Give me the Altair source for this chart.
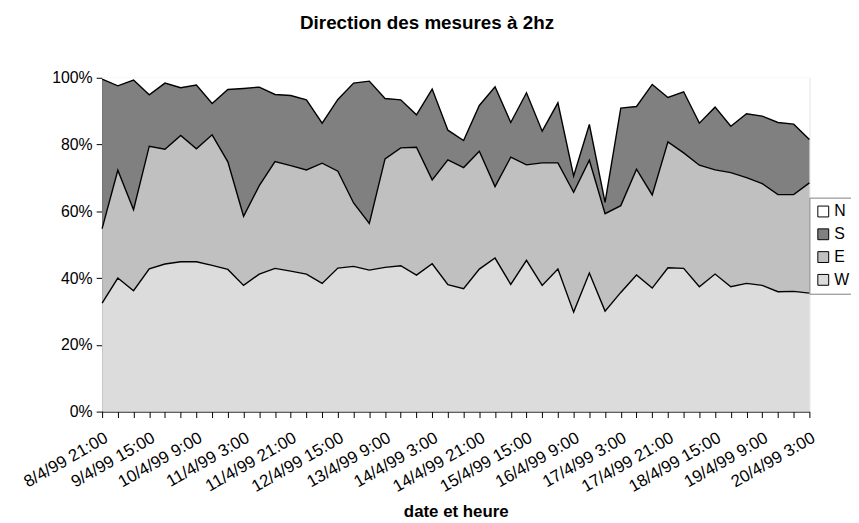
import json
import altair as alt
import pandas as pd

timestamps = [
    "8/4/99 21:00", "9/4/99 3:00", "9/4/99 9:00", "9/4/99 15:00", "9/4/99 21:00",
    "10/4/99 3:00", "10/4/99 9:00", "10/4/99 15:00", "10/4/99 21:00",
    "11/4/99 3:00", "11/4/99 9:00", "11/4/99 15:00", "11/4/99 21:00",
    "12/4/99 3:00", "12/4/99 9:00", "12/4/99 15:00", "12/4/99 21:00",
    "13/4/99 3:00", "13/4/99 9:00", "13/4/99 15:00", "13/4/99 21:00",
    "14/4/99 3:00", "14/4/99 9:00", "14/4/99 15:00", "14/4/99 21:00",
    "15/4/99 3:00", "15/4/99 9:00", "15/4/99 15:00", "15/4/99 21:00",
    "16/4/99 3:00", "16/4/99 9:00", "16/4/99 15:00", "16/4/99 21:00",
    "17/4/99 3:00", "17/4/99 9:00", "17/4/99 15:00", "17/4/99 21:00",
    "18/4/99 3:00", "18/4/99 9:00", "18/4/99 15:00", "18/4/99 21:00",
    "19/4/99 3:00", "19/4/99 9:00", "19/4/99 15:00", "19/4/99 21:00",
    "20/4/99 3:00",
]

shown_labels = [
    "8/4/99 21:00", "9/4/99 15:00", "10/4/99 9:00", "11/4/99 3:00",
    "11/4/99 21:00", "12/4/99 15:00", "13/4/99 9:00", "14/4/99 3:00",
    "14/4/99 21:00", "15/4/99 15:00", "16/4/99 9:00", "17/4/99 3:00",
    "17/4/99 21:00", "18/4/99 15:00", "19/4/99 9:00", "20/4/99 3:00",
]

# share of measurements per direction (%)
W = [32.5, 40.0, 36.2, 42.8, 44.2, 44.9, 44.9, 43.8, 42.6, 37.8,
     41.2, 42.9, 42.1, 41.2, 38.4, 43.0, 43.5, 42.4, 43.2, 43.7,
     40.9, 44.3, 38.0, 36.8, 42.7, 46.0, 38.1, 45.3, 37.8, 42.7,
     29.8, 41.5, 30.1, 35.7, 40.9, 37.0, 43.1, 42.9, 37.4, 41.2,
     37.4, 38.4, 37.8, 35.9, 36.0, 35.5]
E = [22.3, 32.3, 24.3, 36.7, 34.4, 37.8, 33.8, 39.1, 32.2, 20.7,
     26.5, 32.0, 31.6, 31.2, 36.0, 29.0, 19.0, 14.0, 32.5, 35.3,
     38.3, 25.1, 37.4, 36.3, 35.3, 21.4, 38.1, 28.6, 36.7, 31.8,
     35.9, 33.8, 29.2, 26.0, 31.7, 27.9, 37.7, 34.6, 36.4, 31.2,
     34.2, 31.7, 30.5, 29.1, 29.0, 33.0]
S = [44.8, 25.3, 38.8, 15.4, 19.8, 14.3, 19.1, 9.4, 21.7, 38.3,
     29.5, 20.1, 21.0, 21.0, 12.0, 21.5, 35.9, 42.6, 18.1, 14.4,
     9.7, 27.2, 8.9, 8.1, 13.7, 29.9, 10.4, 21.6, 9.5, 18.0,
     4.9, 10.7, 3.4, 29.2, 18.8, 33.1, 13.3, 18.3, 12.6, 18.8,
     13.9, 19.1, 20.2, 21.6, 21.1, 13.0]
N = [0.4, 2.4, 0.7, 5.1, 1.6, 3.0, 2.2, 7.7, 3.5, 3.2,
     2.8, 5.0, 5.3, 6.6, 13.6, 6.5, 1.6, 1.0, 6.2, 6.6,
     11.1, 3.4, 15.7, 18.8, 8.3, 2.7, 13.4, 4.5, 16.0, 7.5,
     29.4, 14.0, 37.3, 9.1, 8.6, 2.0, 5.9, 4.2, 13.6, 8.8,
     14.5, 10.8, 11.5, 13.4, 13.9, 18.5]

directions = ["N", "S", "E", "W"]
stack_rank = {"W": 0, "E": 1, "S": 2, "N": 3}
fills = ["#ffffff", "#808080", "#c0c0c0", "#dcdcdc"]
series = {"N": N, "S": S, "E": E, "W": W}

rows = []
for d in directions:
    for t, v in zip(timestamps, series[d]):
        rows.append({"date": t, "direction": d, "value": v, "rank": stack_rank[d]})
df = pd.DataFrame(rows)

FONT = "Liberation Sans"

label_expr = "indexof(" + json.dumps(shown_labels) + ", datum.value) >= 0 ? datum.value : ''"

x_enc = alt.X(
    "date:O",
    sort=timestamps,
    scale=alt.Scale(type="point", padding=0),
    axis=alt.Axis(
        title="date et heure",
        labelExpr=label_expr,
        labelAngle=-30,
        labelFont=FONT,
        labelFontSize=17,
        labelColor="black",
        labelPadding=12,
        tickColor="black",
        tickSize=6,
        domainColor="black",
        titleFont=FONT,
        titleFontSize=17,
        titleFontWeight="bold",
        titleColor="black",
        titleBaseline="alphabetic",
        titleY=106,
    ),
)

base = alt.Chart(df).transform_stack(
    stack="value",
    groupby=["date"],
    as_=["v0", "v1"],
    sort=[alt.SortField(field="rank", order="ascending")],
)

y_enc = alt.Y(
    "v0:Q",
    scale=alt.Scale(domain=[0, 100], nice=False),
    axis=alt.Axis(
        title=None,
        values=[0, 20, 40, 60, 80, 100],
        labelExpr="datum.value + '%'",
        labelFont=FONT,
        labelFontSize=16,
        labelColor="black",
        labelPadding=4,
        tickColor="black",
        tickSize=6,
        domainColor="black",
        grid=False,
    ),
)

area = base.mark_area(opacity=1).encode(
    x=x_enc,
    y=y_enc,
    y2="v1:Q",
    color=alt.Color(
        "direction:N",
        scale=alt.Scale(domain=directions, range=fills),
        legend=alt.Legend(
            title=None,
            orient="none",
            legendX=714,
            legendY=121,
            symbolType="square",
            symbolSize=120,
            symbolStrokeColor="black",
            symbolStrokeWidth=1,
            labelFont=FONT,
            labelFontSize=16,
            labelColor="black",
            strokeColor="#808080",
            fillColor="white",
            padding=6,
            rowPadding=7,
            labelOffset=3,
        ),
    ),
    order=alt.Order("rank:Q"),
)

lines = base.transform_filter("datum.direction != 'N'").mark_line(
    color="black", strokeWidth=1.4
).encode(
    x=alt.X("date:O", sort=timestamps),
    y=alt.Y("v1:Q"),
    detail="direction:N",
)

chart = (
    alt.layer(area, lines)
    .properties(
        width=714,
        height=337,
        title=alt.TitleParams(
            "Direction des mesures à 2hz",
            font=FONT,
            fontSize=19,
            fontWeight="bold",
            color="black",
            anchor="middle",
            frame="group",
            dx=-29,
            offset=37,
        ),
        autosize=alt.AutoSizeParams(type="none"),
        padding={"left": 95, "top": 68, "right": 42, "bottom": 108},
    )
    .configure_view(stroke="#808080", strokeWidth=1)
    .configure(background="white")
)

chart.save("out.html", embed_options={"renderer": "svg", "actions": False})
